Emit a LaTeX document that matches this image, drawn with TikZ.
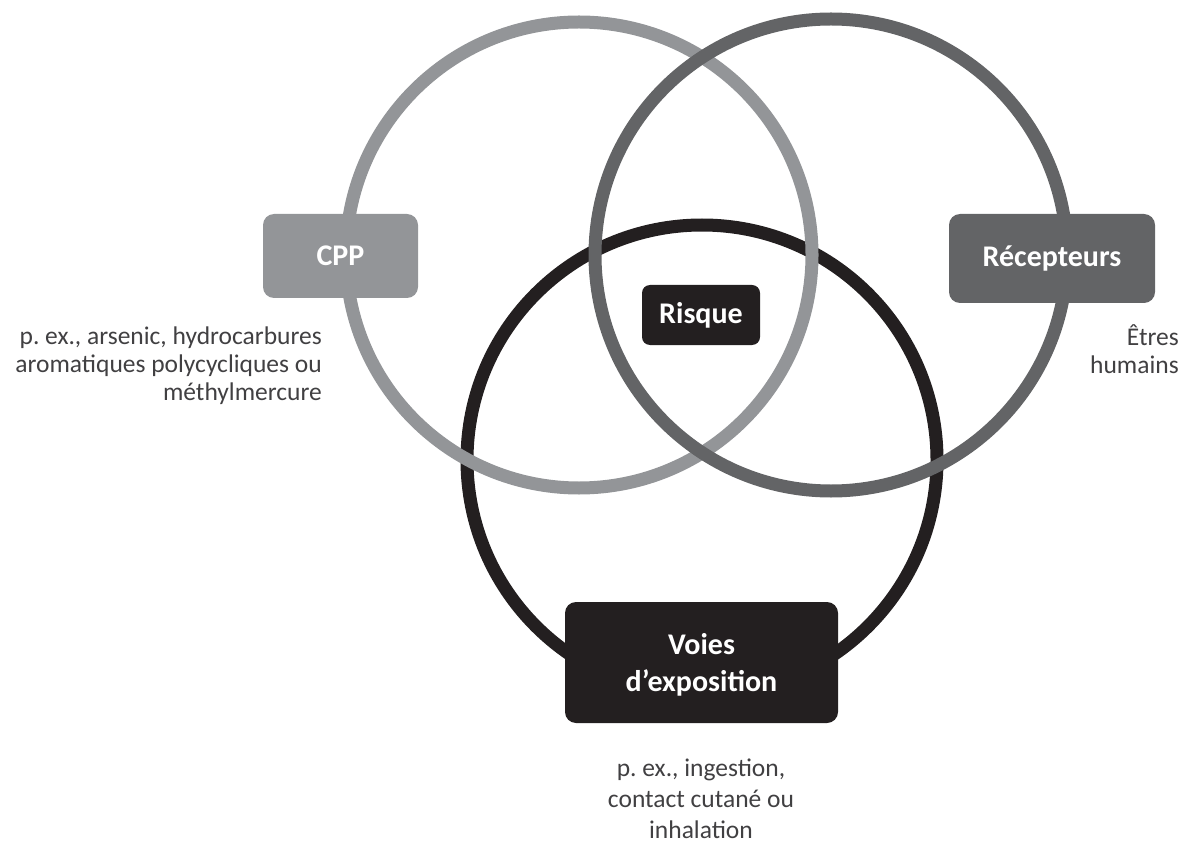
\documentclass[tikz,border=0pt]{standalone}
\usepackage{fontspec}
\setmainfont{Carlito}
\usepackage{tikz}
\frenchspacing

\definecolor{cppgray}{HTML}{939598}
\definecolor{recgray}{HTML}{636466}
\definecolor{voieblack}{HTML}{231F20}
\definecolor{notegray}{HTML}{414042}

\tikzset{
  ring/.style={line width=13pt},
  box/.style={rounded corners=11pt, text=white, align=center, inner sep=0pt,
    font=\fontsize{30}{37}\selectfont\bfseries},
  note/.style={text=notegray, inner sep=0pt, font=\fontsize{25.5}{28}\selectfont}
}

\begin{document}
\begin{tikzpicture}[x=1pt,y=-1pt]
\useasboundingbox (0,0) rectangle (1186,842);

% the three rings
\draw[ring,voieblack] (702,460) circle[radius=235];
\draw[ring,cppgray] (579,255) circle[radius=233];
\draw[ring,recgray] (831,255) circle[radius=236];

% labels on the rings
\node[box,fill=cppgray,minimum width=155pt,minimum height=84pt] (cpp) at (340.5,256) {CPP};
\node[box,fill=recgray,minimum width=206pt,minimum height=89pt] (recept) at (1052,258.5) {Récepteurs};
\node[box,fill=voieblack,minimum width=118pt,minimum height=60pt,rounded corners=8pt] (risque) at (701,315) {Risque};
\node[box,fill=voieblack,minimum width=273pt,minimum height=121pt,text depth=0pt] (voies) at (701.5,662.5) {Voies\\d’exposition};

% examples (base = last line)
\node[note,align=right,anchor=base east] (cppnote) at (322,400)
  {p. ex., arsenic, hydrocarbures\\aromatiques polycycliques ou\\méthylmercure};
\node[note,align=right,anchor=base east] (receptnote) at (1179,373) {Êtres\\humains};
\node[note,align=center,anchor=base,font=\fontsize{25.5}{31}\selectfont] (voiesnote) at (701,838)
  {p. ex., ingestion,\\contact cutané ou\\inhalation};

\end{tikzpicture}
\end{document}
